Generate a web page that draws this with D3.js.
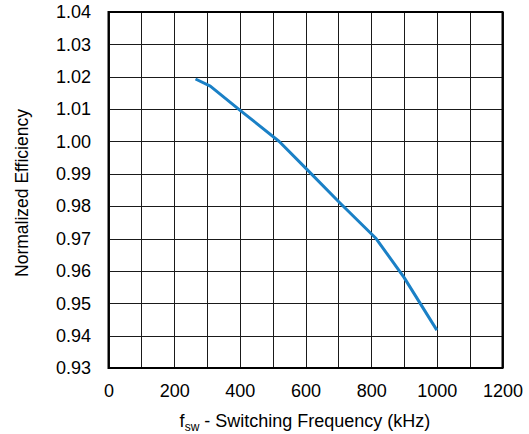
<!DOCTYPE html>
<html>
<head>
<meta charset="utf-8">
<script src="https://cdn.jsdelivr.net/npm/d3@7"></script>
<style>
  html, body { margin: 0; padding: 0; background: #fff; }
  svg { display: block; }
  text { font-family: "Liberation Sans", Arial, sans-serif; fill: #000; }
</style>
</head>
<body>
<svg id="chart" width="529" height="434"></svg>
<script>
const freqKHz = [265, 310, 400, 520, 605, 705, 815, 900, 1000];
const efficiency = [1.0193, 1.0171, 1.0097, 1.0000, 0.9913, 0.9810, 0.9700, 0.9580, 0.9417];
const xTicks = [0, 200, 400, 600, 800, 1000, 1200];
const xGrid = [0, 100, 200, 300, 400, 500, 600, 700, 800, 900, 1000, 1100, 1200];
const yTicks = [0.93, 0.94, 0.95, 0.96, 0.97, 0.98, 0.99, 1.00, 1.01, 1.02, 1.03, 1.04];

const svg = d3.select("#chart");
const m = { left: 108.5, right: 502.5, top: 12, bottom: 368 };
const x = d3.scaleLinear().domain([0, 1200]).range([m.left, m.right]);
const y = d3.scaleLinear().domain([0.93, 1.04]).range([m.bottom, m.top]);

// grid
svg.append("g").selectAll("line").data(xGrid).join("line")
  .attr("x1", d => Math.round(x(d)) + 0.5).attr("x2", d => Math.round(x(d)) + 0.5)
  .attr("y1", m.top).attr("y2", m.bottom)
  .attr("stroke", "#1a1a1a").attr("stroke-width", 1);
svg.append("g").selectAll("line").data(yTicks).join("line")
  .attr("y1", d => Math.round(y(d)) + 0.5).attr("y2", d => Math.round(y(d)) + 0.5)
  .attr("x1", m.left).attr("x2", m.right)
  .attr("stroke", "#1a1a1a").attr("stroke-width", 1);

// border
svg.append("rect")
  .attr("x", m.left).attr("y", m.top)
  .attr("width", m.right - m.left).attr("height", m.bottom - m.top)
  .attr("fill", "none").attr("stroke", "#000").attr("stroke-width", 2);

// axes labels via d3 axes
const xAxis = svg.append("g").attr("transform", `translate(0,${m.bottom})`)
  .call(d3.axisBottom(x).tickValues(xTicks).tickSize(0).tickPadding(16).tickFormat(d3.format("d")));
xAxis.select(".domain").remove();
xAxis.selectAll("text").style("font-size", "18px").style("font-family", "Liberation Sans, Arial, sans-serif");

const yAxis = svg.append("g").attr("transform", `translate(${m.left},0)`)
  .call(d3.axisLeft(y).tickValues(yTicks).tickSize(0).tickPadding(17.5).tickFormat(d3.format(".2f")));
yAxis.select(".domain").remove();
yAxis.selectAll("text").style("font-size", "18px").style("font-family", "Liberation Sans, Arial, sans-serif");

// data line
const line = d3.line().x((d, i) => x(freqKHz[i])).y(d => y(d));
svg.append("path").datum(efficiency)
  .attr("d", line)
  .attr("fill", "none").attr("stroke", "#1a80c6").attr("stroke-width", 3)
  .attr("stroke-linejoin", "round");

// x title
const xt = svg.append("text")
  .attr("x", 305).attr("y", 427)
  .attr("text-anchor", "middle").style("font-size", "18px");
xt.append("tspan").text("f");
xt.append("tspan").attr("dy", 4).style("font-size", "12px").text("sw");
xt.append("tspan").attr("dy", -4).text(" - Switching Frequency (kHz)");

// y title
svg.append("text")
  .attr("transform", `translate(28,193) rotate(-90)`)
  .attr("text-anchor", "middle").style("font-size", "17.5px")
  .text("Normalized Efficiency");
</script>
</body>
</html>
